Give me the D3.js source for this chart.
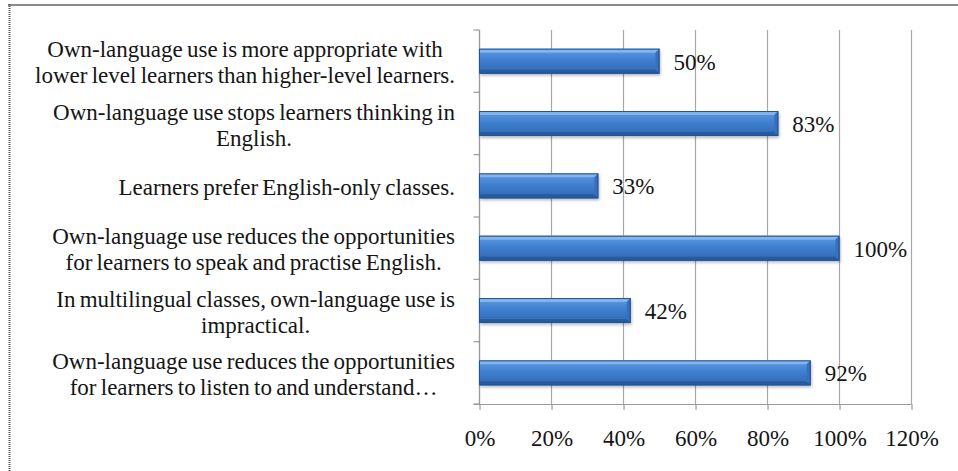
<!DOCTYPE html>
<html>
<head>
<meta charset="utf-8">
<script src="https://cdn.jsdelivr.net/npm/d3@7"></script>
<style>
  html, body { margin: 0; padding: 0; background: #fff; }
  svg { display: block; }
</style>
</head>
<body>
<svg id="chart" width="958" height="471"></svg>
<script>
// Survey statements (each label is given as its wrapped lines)
const statements = [
  ["Own-language use is more appropriate with", "lower level learners than higher-level learners."],
  ["Own-language use stops learners thinking in", "English."],
  ["Learners prefer English-only classes."],
  ["Own-language use reduces the opportunities", "for learners to speak and practise English."],
  ["In multilingual classes, own-language use is", "impractical."],
  ["Own-language use reduces the opportunities", "for learners to listen to and understand…"]
];
// Share of respondents agreeing
const agreement = [0.50, 0.83, 0.33, 1.00, 0.42, 0.92];
// Axis ticks
const xTicks = [0, 0.2, 0.4, 0.6, 0.8, 1.0, 1.2];

const W = 958, H = 471;
const plot = { left: 479.5, right: 911.5, top: 30, bottom: 404 };
const fontSize = 23;
const serif = "'Liberation Serif', Tinos, 'Times New Roman'";
const ink = "#151515";

function serifText(sel) {
  return sel.style("font-family", serif).style("font-size", fontSize + "px").style("fill", ink);
}

const svg = d3.select("#chart");

// frame: grey rule on top, dotted rule on the left
svg.append("line").attr("x1", 8).attr("x2", W).attr("y1", 5).attr("y2", 5)
  .attr("stroke", "#8a8a8a").attr("stroke-width", 2);
svg.append("line").attr("x1", 9.5).attr("x2", 9.5).attr("y1", 4).attr("y2", H)
  .attr("stroke", "#555").attr("stroke-width", 2).attr("stroke-dasharray", "1,1");

const ids = statements.map((_, i) => "s" + i);
const x = d3.scaleLinear().domain([0, 1.2]).range([plot.left, plot.right]);
const y = d3.scaleBand().domain(ids).range([plot.top, plot.bottom])
  .paddingInner(0.6).paddingOuter(0.3);

// gradients for the bevelled bars
const defs = svg.append("defs");
const g1 = defs.append("linearGradient").attr("id", "barFill").attr("x1", 0).attr("x2", 0).attr("y1", 0).attr("y2", 1);
g1.append("stop").attr("offset", "0%").attr("stop-color", "#5f9be2");
g1.append("stop").attr("offset", "45%").attr("stop-color", "#4080d0");
g1.append("stop").attr("offset", "100%").attr("stop-color", "#2f67b2");
defs.append("filter").attr("id", "shadow").attr("x", "-5%").attr("y", "-30%").attr("width", "110%").attr("height", "160%")
  .append("feGaussianBlur").attr("stdDeviation", 1.6);

// vertical gridlines
svg.append("g").selectAll("line").data(xTicks).join("line")
  .attr("x1", d => x(d)).attr("x2", d => x(d))
  .attr("y1", plot.top).attr("y2", plot.bottom)
  .attr("stroke", "#a8a8a8").attr("stroke-width", 1.2);

// bottom axis
const xAxis = svg.append("g").attr("transform", `translate(0,${plot.bottom})`)
  .call(d3.axisBottom(x).tickValues(xTicks).tickFormat(d3.format(".0%")).tickSize(6).tickPadding(20));
xAxis.select(".domain").attr("stroke", "#9a9a9a").attr("stroke-width", 1.2)
  .attr("d", `M${plot.left - 6},0.5H${plot.right}`);
xAxis.selectAll(".tick line").attr("stroke", "#9a9a9a").attr("stroke-width", 1.2);
serifText(xAxis.selectAll(".tick text"));

// left axis line with ticks between categories
const bandEdges = ids.map((id, i) => plot.top + i * y.step()).concat([plot.bottom]);
svg.append("line").attr("x1", plot.left).attr("x2", plot.left)
  .attr("y1", plot.top).attr("y2", plot.bottom).attr("stroke", "#9a9a9a").attr("stroke-width", 1.2);
svg.append("g").selectAll("line").data(bandEdges).join("line")
  .attr("x1", plot.left - 6).attr("x2", plot.left)
  .attr("y1", d => d).attr("y2", d => d)
  .attr("stroke", "#9a9a9a").attr("stroke-width", 1.2);

// bars
const bars = svg.append("g").selectAll("g").data(agreement).join("g");
const b = 4;
bars.append("rect")
  .attr("x", x(0) + 1).attr("y", (d, i) => y(ids[i]) + 2)
  .attr("width", d => x(d) - x(0)).attr("height", y.bandwidth())
  .attr("fill", "#000").attr("opacity", 0.28).attr("filter", "url(#shadow)");
bars.append("rect")
  .attr("x", x(0)).attr("y", (d, i) => y(ids[i]))
  .attr("width", d => x(d) - x(0)).attr("height", y.bandwidth())
  .attr("fill", "url(#barFill)");
// top bevel
bars.append("path").attr("fill", "#80b5f0").attr("d", (d, i) => {
  const y0 = y(ids[i]), x0 = x(0), x1 = x(d);
  return `M${x0},${y0}H${x1}L${x1 - b},${y0 + b}H${x0}Z`;
});
// bottom bevel
bars.append("path").attr("fill", "#285a9e").attr("d", (d, i) => {
  const y1 = y(ids[i]) + y.bandwidth(), x0 = x(0), x1 = x(d);
  return `M${x0},${y1 - b}H${x1 - b}L${x1},${y1}H${x0}Z`;
});
// right bevel
bars.append("path").attr("fill", "#3670bf").attr("d", (d, i) => {
  const y0 = y(ids[i]), y1 = y0 + y.bandwidth(), x1 = x(d);
  return `M${x1 - b},${y0 + b}L${x1},${y0}V${y1}L${x1 - b},${y1 - b}Z`;
});
// outline
bars.append("rect")
  .attr("x", x(0)).attr("y", (d, i) => y(ids[i]) + 0.5)
  .attr("width", d => x(d) - x(0) - 0.5).attr("height", y.bandwidth() - 1)
  .attr("fill", "none").attr("stroke", "#24528f").attr("stroke-width", 1);

// value labels
serifText(svg.append("g").selectAll("text").data(agreement).join("text"))
  .attr("x", d => x(d) + 14)
  .attr("y", (d, i) => y(ids[i]) + y.bandwidth() / 2 + 1)
  .attr("dy", "0.33em")
  .text(d => d3.format(".0%")(d));

// category labels: centred lines, block right-aligned against the axis
const labelRight = 455, lineH = 26;
const labels = svg.append("g");
statements.forEach((lines, i) => {
  const cy = y(ids[i]) + y.bandwidth() / 2 + 1.5;
  const g = labels.append("g");
  const texts = lines.map((ln, j) => serifText(g.append("text"))
    .style("word-spacing", "-1.5px")
    .attr("text-anchor", "middle")
    .attr("y", cy + (j - (lines.length - 1) / 2) * lineH)
    .attr("dy", "0.33em")
    .text(ln));
  const widest = d3.max(texts, t => t.node().getComputedTextLength());
  texts.forEach(t => t.attr("x", labelRight - widest / 2));
});
</script>
</body>
</html>
